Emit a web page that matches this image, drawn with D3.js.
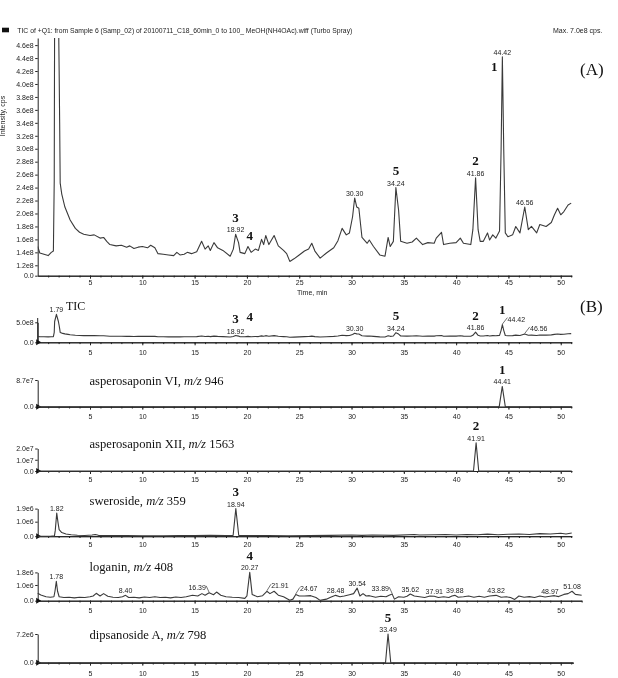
<!DOCTYPE html>
<html>
<head>
<meta charset="utf-8">
<script src="https://cdn.jsdelivr.net/npm/d3@7/dist/d3.min.js"></script>
<style>
	body { margin: 0; background: #fff; }
	svg { display: block; filter: grayscale(1); }
	.axis path, .axis line { stroke: #222; stroke-width: 1; }
	.axis text, .small { font-family: "Liberation Sans", Arial, sans-serif; font-size: 7px; fill: #222; }
	.trace { fill: none; stroke: #3a3a3a; stroke-width: 1.1; stroke-linejoin: round; }
	.serif { font-family: "Liberation Serif", "Times New Roman", serif; fill: #111; }
	.bold { font-weight: bold; }
</style>
</head>
<body>
<svg id="chart" width="618" height="678"></svg>
<script>
'use strict';

// ---- data ----
// TIC trace: [time (min), intensity (x1e8 cps)]
const ticTrace = [
	[0, 1.49], [0.2, 1.39], [0.6, 1.37], [1.0, 1.35], [1.3, 1.40], [1.5, 1.42], [1.58, 2.5], [1.62, 5.2],
	[1.79, 7.0], [1.98, 5.2], [2.05, 4.2], [2.1, 3.4], [2.15, 2.47], [2.3, 2.3], [2.6, 2.1], [2.9, 1.98],
	[3.1, 1.9], [3.6, 1.77], [4.0, 1.71], [4.4, 1.68], [5.0, 1.66], [5.4, 1.67], [5.96, 1.62], [6.3, 1.63],
	[6.6, 1.57], [6.9, 1.52], [7.5, 1.5], [8.0, 1.51], [8.5, 1.48], [8.8, 1.50], [9.2, 1.46], [9.6, 1.48],
	[10.0, 1.49], [10.5, 1.47], [10.8, 1.51], [11.2, 1.47], [11.5, 1.38], [12.0, 1.37], [12.5, 1.36],
	[13.0, 1.35], [13.3, 1.40], [13.6, 1.36], [14.0, 1.37], [14.3, 1.40], [14.7, 1.38], [15.2, 1.41],
	[15.67, 1.57], [16.0, 1.45], [16.3, 1.50], [16.5, 1.43], [16.85, 1.55], [17.2, 1.47], [17.7, 1.43],
	[18.4, 1.34], [18.7, 1.45], [18.92, 1.68], [19.2, 1.55], [19.35, 1.40], [19.8, 1.38], [20.1, 1.49],
	[20.4, 1.40], [20.8, 1.45], [21.1, 1.43], [21.4, 1.60], [21.6, 1.52], [21.8, 1.66], [22.1, 1.52],
	[22.6, 1.66], [23.0, 1.50], [23.5, 1.43], [23.8, 1.38], [24.1, 1.26], [24.5, 1.30], [25.0, 1.36],
	[25.5, 1.42], [25.9, 1.45], [26.2, 1.54], [26.5, 1.42], [27.0, 1.31], [27.6, 1.39], [28.3, 1.47],
	[28.7, 1.58], [29.1, 1.77], [29.5, 1.67], [29.8, 1.70], [30.1, 1.95], [30.3, 2.24], [30.5, 2.10],
	[30.7, 2.08], [31.0, 1.63], [31.5, 1.54], [31.7, 1.59], [32.1, 1.49], [32.7, 1.36], [33.2, 1.34],
	[33.5, 1.63], [33.7, 1.49], [34.0, 1.57], [34.24, 2.40], [34.5, 2.05], [34.7, 1.57], [35.3, 1.54],
	[35.8, 1.56], [36.2, 1.62], [36.8, 1.52], [37.3, 1.55], [37.9, 1.54], [38.1, 1.62], [38.6, 1.71],
	[38.8, 1.52], [39.4, 1.54], [40.0, 1.55], [40.4, 1.62], [40.7, 1.54], [41.4, 1.52], [41.6, 1.75],
	[41.86, 2.55], [42.1, 1.75], [42.3, 1.57], [42.6, 1.57], [43.0, 1.70], [43.2, 1.59], [43.5, 1.67],
	[43.8, 1.62], [44.15, 1.73], [44.3, 3.0], [44.42, 4.42], [44.55, 3.0], [44.7, 1.70], [44.95, 1.64],
	[45.4, 1.67], [45.7, 1.80], [46.1, 1.70], [46.56, 2.10], [46.9, 1.75], [47.2, 1.80], [47.7, 1.70],
	[48.0, 1.83], [48.6, 1.80], [49.1, 1.86], [49.4, 1.98], [49.7, 2.08], [50.0, 1.98], [50.3, 2.03],
	[50.7, 2.13], [51.0, 2.16]
];

// extracted ion traces: [time (min), intensity]
const asperoVITrace = [[0, 0], [44.12, 0], [44.41, 6.6], [44.7, 0], [51.05, 0]];        // x1e7
const asperoXIITrace = [[0, 0], [41.66, 0], [41.91, 2.5], [42.16, 0], [51.05, 0]];      // x1e7
const swerosideTrace = [                                                                // x1e6
	[0, 0], [1.2, 0], [1.6, 0.02], [1.68, 0.4], [1.82, 1.6], [1.95, 0.9], [2.05, 0.45], [2.3, 0.25],
	[2.7, 0.15], [3.2, 0.1], [3.8, 0.07], [4.5, 0.05], [5.2, 0.08], [5.5, 0.12], [5.8, 0.06], [7, 0.04],
	[8.5, 0.05], [10, 0.03], [12, 0.03], [13.5, 0.05], [15, 0.04], [16.5, 0.06], [18.0, 0.05],
	[18.68, 0.05], [18.94, 1.9], [19.22, 0.05], [20, 0.04], [22, 0.05], [24, 0.03], [26, 0.04],
	[28, 0.06], [30, 0.08], [31, 0.06], [32, 0.08], [34, 0.06], [36, 0.12], [36.5, 0.08], [38, 0.1],
	[39, 0.12], [40, 0.08], [41, 0.12], [42, 0.1], [43, 0.14], [44, 0.1], [45, 0.13], [46, 0.15],
	[47, 0.12], [48, 0.18], [49, 0.15], [50, 0.2], [50.5, 0.15], [51.05, 0.22]
];
const loganinTrace = [                                                                  // x1e6
	[0, 0.47], [0.3, 0.36], [0.8, 0.25], [1.2, 0.22], [1.55, 0.25], [1.65, 0.6], [1.78, 1.23], [1.9, 0.6],
	[2.05, 0.25], [2.5, 0.2], [3, 0.22], [3.5, 0.18], [4, 0.22], [4.5, 0.2], [5, 0.25], [5.3, 0.3],
	[5.6, 0.47], [5.96, 0.3], [6.3, 0.45], [6.7, 0.28], [7.2, 0.22], [7.7, 0.2], [8.1, 0.25], [8.4, 0.34],
	[8.7, 0.2], [9.2, 0.22], [9.7, 0.18], [10.2, 0.24], [10.7, 0.2], [11.2, 0.25], [11.7, 0.2],
	[12.2, 0.22], [12.7, 0.18], [13.2, 0.24], [13.7, 0.2], [14.2, 0.25], [14.8, 0.35], [15.3, 0.3],
	[15.7, 0.45], [16.0, 0.35], [16.39, 0.5], [16.8, 0.38], [17.1, 0.55], [17.5, 0.35], [18.0, 0.25],
	[18.6, 0.22], [19.2, 0.2], [19.8, 0.15], [20.0, 0.3], [20.27, 1.8], [20.5, 0.4], [21.0, 0.25],
	[21.5, 0.32], [21.91, 0.6], [22.2, 0.45], [22.6, 0.6], [23.0, 0.35], [23.5, 0.25], [24.1, 0.03],
	[24.4, 0.1], [24.67, 0.4], [25.0, 0.3], [25.5, 0.3], [26.1, 0.32], [26.6, 0.2], [27.0, 0.02],
	[27.6, 0.1], [28.0, 0.22], [28.48, 0.34], [28.9, 0.25], [29.3, 0.3], [29.8, 0.38], [30.2, 0.45],
	[30.54, 0.8], [30.8, 0.3], [31.1, 0.45], [31.4, 0.3], [31.7, 0.32], [32.3, 0.22], [32.8, 0.28],
	[33.3, 0.25], [33.6, 0.35], [33.89, 0.42], [34.1, 0.1], [34.5, 0.25], [35.0, 0.22], [35.3, 0.28],
	[35.62, 0.43], [36.0, 0.3], [36.5, 0.25], [37.0, 0.2], [37.5, 0.3], [37.91, 0.28], [38.3, 0.2],
	[38.8, 0.25], [39.3, 0.2], [39.6, 0.3], [39.88, 0.34], [40.2, 0.22], [40.7, 0.25], [41.2, 0.3],
	[41.7, 0.22], [42.2, 0.28], [42.7, 0.22], [43.2, 0.3], [43.82, 0.34], [44.3, 0.22], [44.8, 0.25],
	[45.2, 0.2], [45.6, 0.08], [46.0, 0.3], [46.5, 0.22], [47.0, 0.26], [47.5, 0.2], [48.0, 0.3],
	[48.5, 0.24], [48.97, 0.28], [49.4, 0.32], [49.8, 0.26], [50.3, 0.4], [50.7, 0.45], [51.08, 0.6],
	[51.4, 0.4], [52.0, 0.35]
];
const dipsanosideTrace = [[0, 0], [33.25, 0], [33.49, 7.2], [33.75, 0], [51.2, 0]];   // x1e6

// y tick values per panel
const ticTicksA = [0, 1.2e8, 1.4e8, 1.6e8, 1.8e8, 2.0e8, 2.2e8, 2.4e8, 2.6e8, 2.8e8, 3.0e8, 3.2e8,
	3.4e8, 3.6e8, 3.8e8, 4.0e8, 4.2e8, 4.4e8, 4.6e8];
const ticTicksB = [0, 5.0e8];
const asperoVITicks = [0, 8.7e7];
const asperoXIITicks = [0, 1.0e7, 2.0e7];
const swerosideTicks = [0, 1.0e6, 1.9e6];
const loganinTicks = [0, 1.0e6, 1.8e6];
const dipsanosideTicks = [0, 7.2e6];

// x tick labels (min)
const timeTicks = [5, 10, 15, 20, 25, 30, 35, 40, 45, 50];

// labelled retention times per panel
const ticPeaksA = [18.92, 30.30, 34.24, 41.86, 44.42, 46.56];
const ticPeaksB = [1.79, 18.92, 30.30, 34.24, 41.86, 44.42, 46.56];
const asperoVIPeaks = [44.41];
const asperoXIIPeaks = [41.91];
const swerosidePeaks = [1.82, 18.94];
const loganinPeaks = [1.78, 8.40, 16.39, 20.27, 21.91, 24.67, 28.48, 30.54, 33.89, 35.62, 37.91,
	39.88, 43.82, 48.97, 51.08];
const dipsanosidePeaks = [33.49];

// compound numbers: [number, retention time]
const compoundsA = [[3, 18.92], [4, 20.27], [5, 34.24], [2, 41.86], [1, 44.42]];
const compoundsB = [[3, 18.92], [4, 20.27], [5, 34.24], [2, 41.86], [1, 44.42]];

// extracted ion names and m/z
const xicNames = ['asperosaponin VI', 'asperosaponin XII', 'sweroside', 'loganin', 'dipsanoside A'];
const xicMz = [946, 1563, 359, 408, 798];
const xicCompound = [1, 2, 3, 4, 5];

const ticHeader = 'TIC of +Q1: from Sample 6 (Samp_02) of 20100711_C18_60min_0 to 100_ MeOH(NH4OAc).wiff (Turbo Spray)';
const ticMaxText = 'Max. 7.0e8 cps.';


window.app = window.app || {};

window.app.chromChart = (function() {

	var sgSvg = d3.select('#chart'),
		sgX = d3.scaleLinear().domain([0, 51]).range([37.7, 571.2]);

	/**
	* format intensity labels like the instrument software (5.0e8)
	*/
	const formatIntensity = function(v) {
		if (v === 0) {
			return '0.0';
		}
		const exp = Math.floor(Math.log10(v) + 1e-9);
		return (v / Math.pow(10, exp)).toFixed(1) + 'e' + exp;
	};

	/**
	* highest trace value around a retention time (interpolated)
	*/
	const peakValue = function(trace, t) {
		let best = 0;
		for (let i = 0; i < trace.length - 1; i++) {
			const a = trace[i], b = trace[i + 1];
			if (t >= a[0] && t <= b[0]) {
				best = Math.max(best, a[1] + (b[1] - a[1]) * (t - a[0]) / (b[0] - a[0]));
			}
			if (Math.abs(a[0] - t) < 0.1) {
				best = Math.max(best, a[1]);
			}
		}
		return best;
	};

	// panel layout: scales, axis ends and label tweaks
	const panels = [
		{ key: 'A', trace: ticTrace, unit: 1e8, yTicks: ticTicksA, peaks: ticPeaksA, compounds: compoundsA,
			yDomain: [0, 1.2e8, 4.71e8], yRange: [275.7, 265.3, 38], xEnd: 51.05, xGap: 1.3,
			shifts: { 1: [-8, 27], 4: [0, 3] } },
		{ key: 'B', trace: ticTrace, unit: 1e8, yTicks: ticTicksB, peaks: ticPeaksB, compounds: compoundsB,
			yDomain: [0, 5e8], yRange: [342.3, 322.3], yAxisTop: 318, xEnd: 51.05, xGap: 5,
			shifts: { 4: [0, -3], 1: [0, 2] }, leaders: { 44.42: 14, 46.56: 14 } },
		{ key: 'C', trace: asperoVITrace, unit: 1e7, yTicks: asperoVITicks, peaks: asperoVIPeaks,
			yDomain: [0, 8.7e7], yRange: [406.7, 380], xEnd: 51.05, xGap: 4, titleY: 384.5 },
		{ key: 'D', trace: asperoXIITrace, unit: 1e7, yTicks: asperoXIITicks, peaks: asperoXIIPeaks,
			yDomain: [0, 2e7], yRange: [471, 448.5], xEnd: 51.05, xGap: 3.5, titleY: 447.5 },
		{ key: 'E', trace: swerosideTrace, unit: 1e6, yTicks: swerosideTicks, peaks: swerosidePeaks,
			yDomain: [0, 1.9e6], yRange: [536.2, 508.6], xEnd: 51.05, xGap: 3, titleY: 504.5 },
		{ key: 'F', trace: loganinTrace, unit: 1e6, yTicks: loganinTicks, peaks: loganinPeaks,
			yDomain: [0, 1.8e6], yRange: [600.7, 572.4], xEnd: 52, xGap: 4, titleY: 571,
			leaders: { 16.39: -12, 21.91: 13, 24.67: 13, 33.89: -12 } },
		{ key: 'G', trace: dipsanosideTrace, unit: 1e6, yTicks: dipsanosideTicks, peaks: dipsanosidePeaks,
			yDomain: [0, 7.2e6], yRange: [662.7, 634], xEnd: 51.2, xGap: 5, titleY: 638.5 }
	];

	/**
	* draw x and y axes of one panel
	*/
	const drawAxes = function(p, y) {
		const base = p.yRange[0],
			xp = sgX.copy().domain([0, p.xEnd]).range([sgX(0), sgX(p.xEnd)]);

		// minor ticks each minute
		sgSvg.append('g')
			.attr('class', 'axis')
			.attr('transform', 'translate(0,' + base + ')')
			.call(d3.axisBottom(xp).tickValues(d3.range(1, Math.floor(p.xEnd) + 1)).tickSize(1.8)
				.tickSizeOuter(0).tickFormat(''));

		sgSvg.append('g')
			.attr('class', 'axis')
			.attr('transform', 'translate(0,' + base + ')')
			.call(d3.axisBottom(xp).tickValues(timeTicks).tickSize(3).tickSizeOuter(0).tickPadding(p.xGap));

		const yAxis = sgSvg.append('g')
			.attr('class', 'axis')
			.attr('transform', 'translate(' + sgX(0) + ',0)')
			.call(d3.axisLeft(y).tickValues(p.yTicks).tickFormat(formatIntensity)
				.tickSize(2.5).tickPadding(1.5).tickSizeOuter(0));

		if (p.yAxisTop) {
			yAxis.append('line')
				.attr('y1', base).attr('y2', p.yAxisTop)
				.attr('stroke', '#222');
		}

		// origin marker
		if (p.key !== 'A') {
			const x0 = sgX(0);
			sgSvg.append('path')
				.attr('d', 'M' + (x0 - 1.5) + ',' + (base - 3) + 'L' + (x0 + 3.5) + ',' + base +
					'L' + (x0 - 1.5) + ',' + (base + 3) + 'Z')
				.attr('fill', '#111');
		}
	};

	/**
	* draw the trace line
	*/
	const drawTrace = function(p, y) {
		let g = sgSvg.append('g');

		if (p.key === 'A') {
			sgSvg.append('clipPath').attr('id', 'clipA')
				.append('rect')
				.attr('x', sgX(0)).attr('y', p.yRange[2])
				.attr('width', 560).attr('height', p.yRange[0] - p.yRange[2]);
			g.attr('clip-path', 'url(#clipA)');
		}

		const line = d3.line()
			.x(function(d) { return sgX(d[0]); })
			.y(function(d) { return y(d[1] * p.unit); });

		g.append('path')
			.datum(p.trace)
			.attr('class', 'trace')
			.attr('d', line);
	};

	/**
	* retention time labels and bold compound numbers
	*/
	const drawLabels = function(p, y) {
		const leaders = p.leaders || {},
			shifts = p.shifts || {};

		p.peaks.forEach(function(t) {
			const px = sgX(t),
				py = y(peakValue(p.trace, t) * p.unit),
				dx = leaders[t] || 0,
				base = dx ? py - 3 : py - 2;

			sgSvg.append('text')
				.attr('class', 'small')
				.attr('x', px + dx)
				.attr('y', base)
				.attr('text-anchor', 'middle')
				.text(t.toFixed(2));

			if (dx) {
				const s = dx > 0 ? 1 : -1;
				sgSvg.append('line')
					.attr('x1', px).attr('y1', py - 0.5)
					.attr('x2', px + dx - s * 9).attr('y2', base - 4)
					.attr('stroke', '#333').attr('stroke-width', 0.7);
			}
		});

		(p.compounds || []).forEach(function(c) {
			const sh = shifts[c[0]] || [0, 0],
				py = y(peakValue(p.trace, c[1]) * p.unit);

			sgSvg.append('text')
				.attr('class', 'serif bold')
				.attr('font-size', 13)
				.attr('x', sgX(c[1]) + sh[0])
				.attr('y', py - 2 - 10.5 + sh[1])
				.attr('text-anchor', 'middle')
				.text(c[0]);
		});
	};

	/**
	* XIC panel title and compound number above the main peak
	*/
	const drawXicTitle = function(p, y, i) {
		const t = sgSvg.append('text')
			.attr('class', 'serif')
			.attr('font-size', 12.6)
			.attr('x', 89.5)
			.attr('y', p.titleY);
		t.append('tspan').text(xicNames[i] + ', ');
		t.append('tspan').attr('font-style', 'italic').text('m/z');
		t.append('tspan').text(' ' + xicMz[i]);

		const rt = p.peaks.reduce(function(a, b) {
			return peakValue(p.trace, b) > peakValue(p.trace, a) ? b : a;
		});
		sgSvg.append('text')
			.attr('class', 'serif bold')
			.attr('font-size', 13)
			.attr('x', sgX(rt))
			.attr('y', y(peakValue(p.trace, rt) * p.unit) - 2 - 10.5)
			.attr('text-anchor', 'middle')
			.text(xicCompound[i]);
	};

	/**
	* header texts for (A) and (B)
	*/
	const drawHeaders = function() {
		sgSvg.append('rect').attr('x', 2).attr('y', 27.7).attr('width', 7).attr('height', 4.6).attr('fill', '#111');
		sgSvg.append('text').attr('class', 'small').attr('x', 17.3).attr('y', 32.5)
			.attr('textLength', 335).attr('lengthAdjust', 'spacingAndGlyphs').text(ticHeader);
		sgSvg.append('text').attr('class', 'small').attr('x', 553).attr('y', 32.5).text(ticMaxText);

		sgSvg.append('text').attr('class', 'small')
			.attr('transform', 'translate(5,116) rotate(-90)')
			.attr('text-anchor', 'middle').text('Intensity, cps');
		sgSvg.append('text').attr('class', 'small').attr('x', 297).attr('y', 294.5).text('Time, min');

		sgSvg.append('text').attr('class', 'serif').attr('font-size', 17).attr('x', 580).attr('y', 75).text('(A)');
		sgSvg.append('text').attr('class', 'serif').attr('font-size', 17).attr('x', 580).attr('y', 312).text('(B)');
		sgSvg.append('text').attr('class', 'serif').attr('font-size', 12).attr('x', 66).attr('y', 310).text('TIC');
	};

	const drawChart = function() {
		drawHeaders();
		panels.forEach(function(p, i) {
			const y = d3.scaleLinear().domain(p.yDomain).range(p.yRange);
			drawAxes(p, y);
			drawTrace(p, y);
			drawLabels(p, y);
			if (i >= 2) {
				drawXicTitle(p, y, i - 2);
			}
		});
	};

	return { drawChart };

})();

window.app.chromChart.drawChart();
</script>
</body>
</html>
